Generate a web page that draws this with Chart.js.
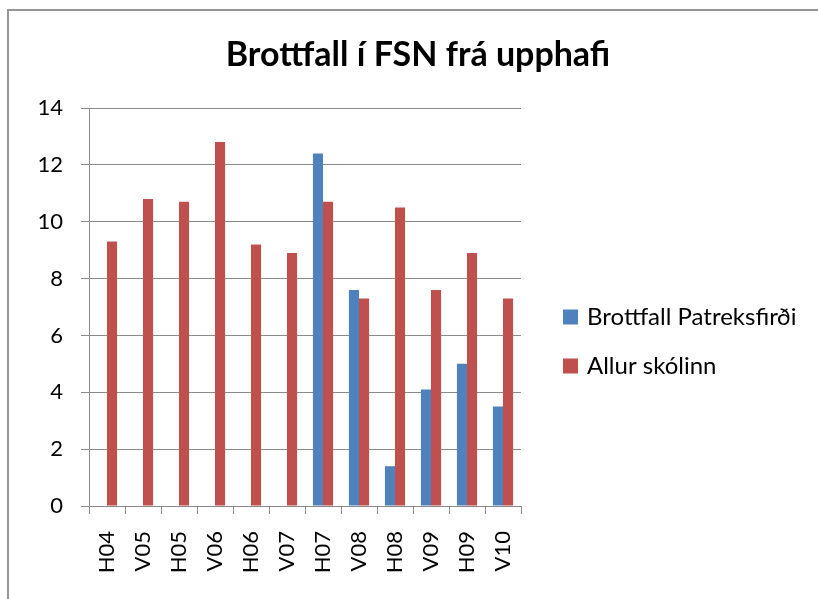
<!DOCTYPE html>
<html>
<head>
<meta charset="utf-8">
<title>Brottfall í FSN frá upphafi</title>
<script src="https://cdn.jsdelivr.net/npm/chart.js@4/dist/chart.umd.min.js"></script>
<style>
  body { margin: 0; background: #fff; }
  #frame {
    position: absolute;
    left: 7px;
    top: 9px;
    width: 830px;
    height: 600px;
    border-left: 2px solid #959595;
    border-top: 2px solid #959595;
  }
  #myChart { position: absolute; left: 0; top: 0; }
</style>
</head>
<body>
<div id="frame"></div>
<canvas id="myChart" width="818" height="599"></canvas>
<script>
// Data
const chartTitle = "Brottfall í FSN frá upphafi";
const labels = ["H04", "V05", "H05", "V06", "H06", "V07", "H07", "V08", "H08", "V09", "H09", "V10"];
const patreksfjordur = [null, null, null, null, null, null, 12.4, 7.6, 1.4, 4.1, 5.0, 3.5];
const allurSkolinn = [9.3, 10.8, 10.7, 12.8, 9.2, 8.9, 10.7, 7.3, 10.5, 7.6, 8.9, 7.3];

const gridColor = "#8a8a8a";
const font = "Lato, 'Open Sans', sans-serif";

// Built-in title/legend get squeezed by the layout, so draw them here instead
const titleAndLegend = {
  id: "titleAndLegend",
  afterDraw(chart) {
    const c = chart.ctx;
    const area = chart.chartArea;
    c.save();
    c.fillStyle = "#000";
    c.textAlign = "center";
    c.textBaseline = "middle";
    c.font = "bold 34px " + font;
    c.fillText(chartTitle, chart.width / 2 + 9, 55);

    // legend on the right, items stacked
    c.font = "24px " + font;
    c.textAlign = "left";
    const midY = (area.top + area.bottom) / 2 + 34;
    const step = 49;
    chart.data.datasets.forEach((ds, i) => {
      const y = midY + (i - (chart.data.datasets.length - 1) / 2) * step;
      const x = area.right + 42;
      c.fillStyle = ds.backgroundColor;
      c.fillRect(x, y - 7, 15, 15);
      c.fillStyle = "#000";
      c.fillText(ds.label, x + 24, y + 1);
    });
    c.restore();
  },
};

const ctx = document.getElementById("myChart").getContext("2d");
new Chart(ctx, {
  type: "bar",
  data: {
    labels: labels,
    datasets: [
      {
        label: "Brottfall Patreksfirði",
        data: patreksfjordur,
        backgroundColor: "#4F81BD",
        categoryPercentage: 0.56,
        barPercentage: 1.0,
      },
      {
        label: "Allur skólinn",
        data: allurSkolinn,
        backgroundColor: "#C0504D",
        categoryPercentage: 0.56,
        barPercentage: 1.0,
      },
    ],
  },
  plugins: [titleAndLegend],
  options: {
    responsive: false,
    animation: false,
    devicePixelRatio: 1,
    layout: {
      padding: { left: 0, top: 108, right: 297, bottom: 0 },
    },
    plugins: {
      title: { display: false },
      legend: { display: false },
      tooltip: { enabled: false },
    },
    scales: {
      x: {
        grid: {
          display: true,
          drawOnChartArea: false, // only the small tick marks between categories
          drawTicks: true,
          tickLength: 8,
          color: gridColor,
        },
        border: { color: gridColor, width: 1 },
        ticks: {
          color: "#000",
          font: { family: font, size: 22 },
          minRotation: 90,
          maxRotation: 90,
          padding: 17,
        },
        afterFit: (scale) => { scale.height = 93; },
      },
      y: {
        min: 0,
        max: 14,
        ticks: {
          stepSize: 2,
          color: "#000",
          font: { family: font, size: 22 },
          padding: 18,
        },
        grid: {
          color: gridColor,
          tickLength: 8,
        },
        border: { color: gridColor, width: 1 },
        afterFit: (scale) => { scale.width = 89; },
      },
    },
  },
});
</script>
</body>
</html>
